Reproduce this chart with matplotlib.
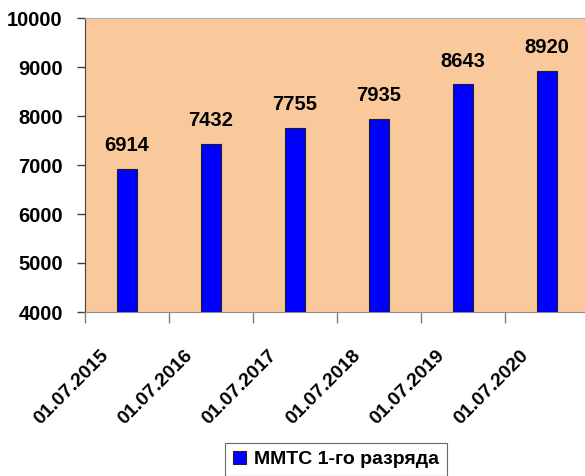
import matplotlib
matplotlib.use("Agg")
import matplotlib.pyplot as plt
import matplotlib.transforms as mtransforms
import numpy as np

# данные
dates = ["01.07.2015", "01.07.2016", "01.07.2017", "01.07.2018", "01.07.2019", "01.07.2020"]
values = [6914, 7432, 7755, 7935, 8643, 8920]
series_name = "ММТС 1-го разряда"

plt.rcParams['font.family'] = ['Liberation Sans', 'DejaVu Sans']
plt.rcParams['font.weight'] = 'bold'

fig = plt.figure(figsize=(5.85, 4.76), dpi=100)
ax = fig.add_axes([85 / 585, 1 - 312 / 476, 504 / 585, 294 / 476])
ax.set_facecolor('#F9C89B')

x = np.arange(len(dates))
bars = ax.bar(x, values, width=0.24, bottom=0, color='#0000FF',
              edgecolor='#202020', linewidth=0.8, label=series_name)

# подписи значений
for xi, v in zip(x, values):
    ax.annotate(str(v), (xi, v), xytext=(0, 10), textcoords='offset points',
                ha='center', va='bottom', fontsize=14.5, fontweight='bold')

ax.set_ylim(4000, 10000)
ax.set_xlim(-0.5, len(dates) - 0.5)
ax.set_yticks(range(4000, 10001, 1000))
ax.tick_params(axis='y', direction='out', length=6, width=1, color='#404040',
               pad=10, labelsize=14.5)

# метки оси X
ax.set_xticks(x)
ax.set_xticklabels(dates, rotation=45, ha='right', va='center',
                   rotation_mode='anchor', fontsize=14)
ax.tick_params(axis='x', which='major', length=0, pad=0)
offset = mtransforms.ScaledTranslation(-21 / 100, -41 / 100, fig.dpi_scale_trans)
for lbl in ax.get_xticklabels():
    lbl.set_transform(lbl.get_transform() + offset)
    lbl.set_fontweight('bold')

ax.set_xticks(np.arange(-0.5, len(dates) + 0.5, 1), minor=True)
ax.tick_params(axis='x', which='minor', direction='out', length=8, width=1,
               color='#808080')

for lbl in ax.get_yticklabels():
    lbl.set_fontweight('bold')

ax.spines['left'].set_color('#404040')
ax.spines['bottom'].set_color('#909090')
ax.spines['top'].set_color('#b0b0b0')
ax.spines['right'].set_visible(False)

leg = fig.legend(loc='upper center', bbox_to_anchor=(336 / 585, 1 - 443 / 476),
                 borderaxespad=0, frameon=True, fancybox=False, edgecolor='#404040',
                 prop={'size': 14, 'weight': 'bold'}, handlelength=0.7,
                 handleheight=0.7, handletextpad=0.4, borderpad=0.4)
leg.get_frame().set_linewidth(0.8)

fig.savefig('out.png', dpi=100)
